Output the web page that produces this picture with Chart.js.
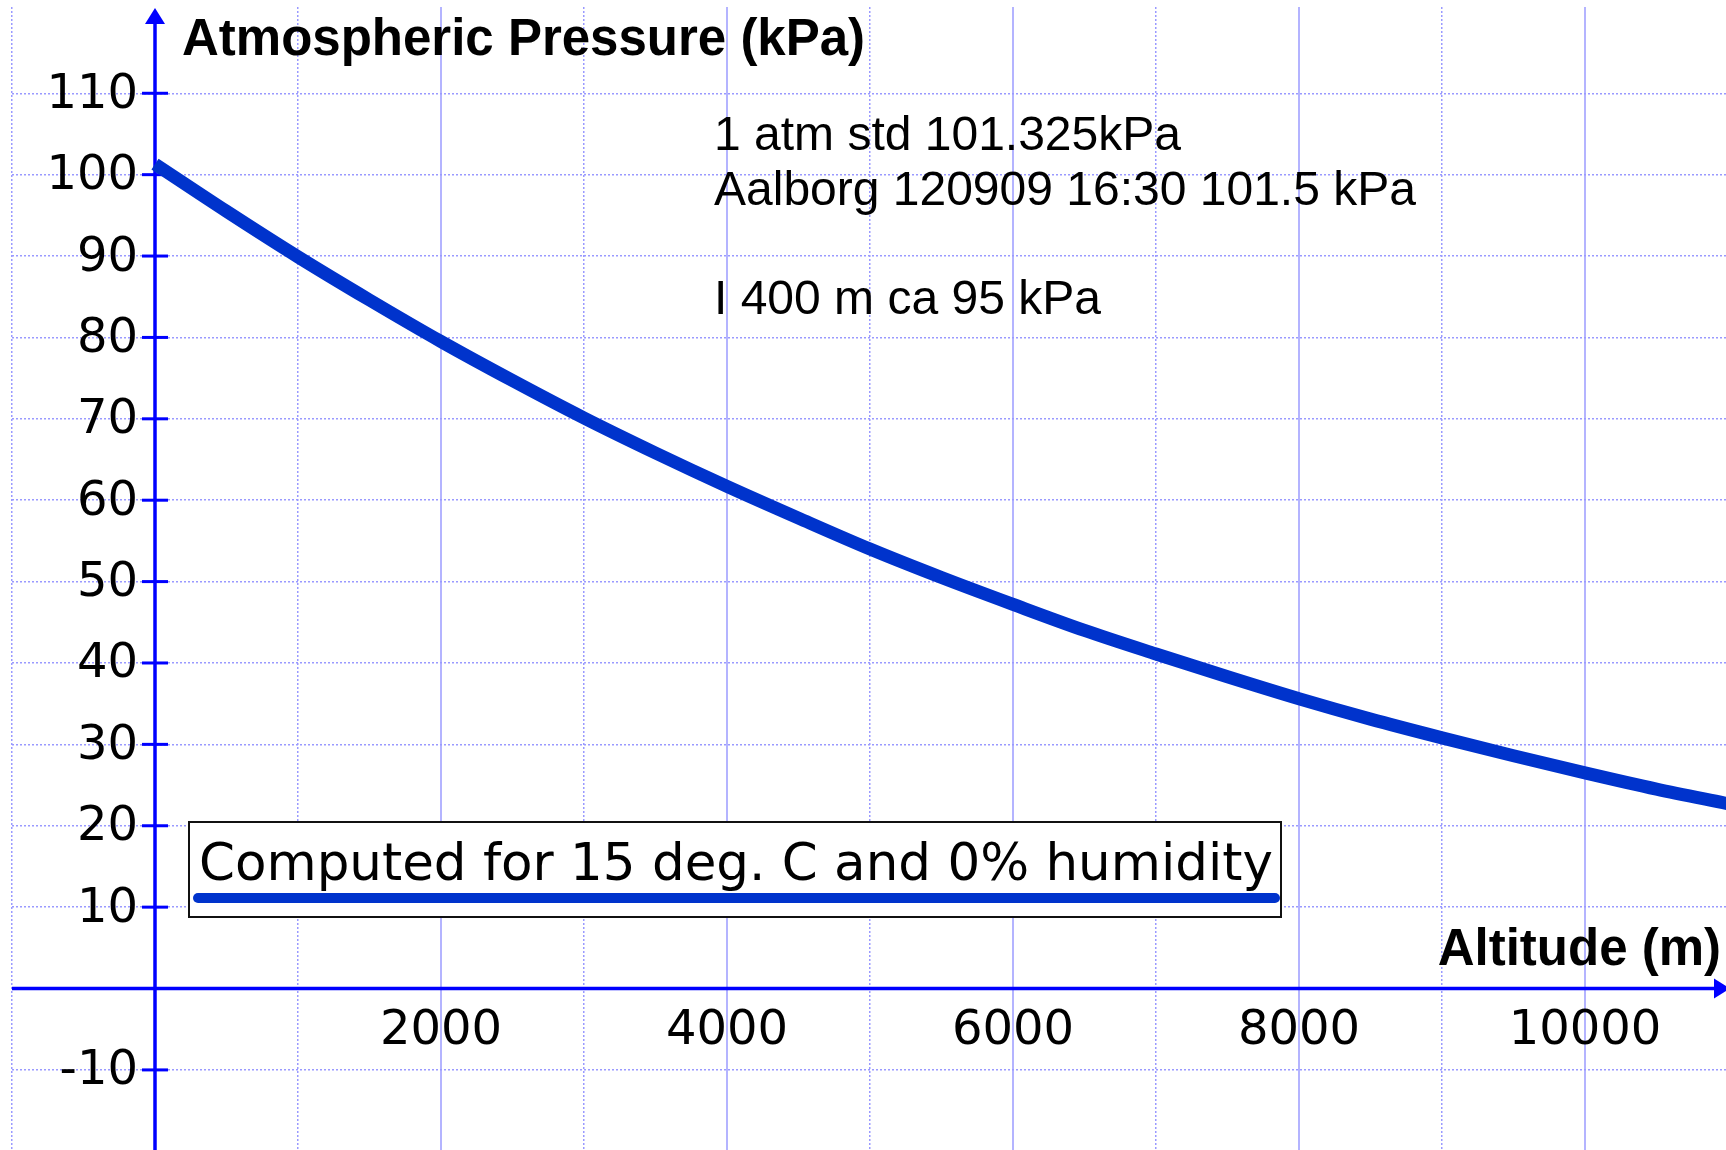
<!DOCTYPE html>
<html>
<head>
<meta charset="utf-8">
<title>Atmospheric Pressure vs Altitude</title>
<script src="https://cdn.jsdelivr.net/npm/chart.js@4"></script>
<style>
  html, body { margin: 0; padding: 0; background: #fff; overflow: hidden; }
  #wrap { width: 1726px; height: 1150px; position: relative; }
</style>
</head>
<body>
<div id="wrap"><canvas id="chart"></canvas></div>
<script>
// Pressure curve (altitude in m, pressure in kPa)
const altitudes = [0, 500, 1000, 1500, 2000, 2500, 3000, 3500, 4000, 4500, 5000, 5500,
    6000, 6500, 7000, 7500, 8000, 8500, 9000, 9500, 10000, 10500, 11000];
const pressures = [101.3, 95.5, 89.9, 84.6, 79.5, 74.7, 70.1, 65.8, 61.7, 57.8, 54.0, 50.5,
    47.2, 44.0, 41.1, 38.3, 35.6, 33.1, 30.8, 28.6, 26.5, 24.5, 22.7];

// Grid and tick labels
const xDottedGrid = [-1000, 1000, 3000, 5000, 7000, 9000];
const xSolidGrid = [2000, 4000, 6000, 8000, 10000];
const xTickLabels = [2000, 4000, 6000, 8000, 10000];
const yGrid = [-10, 10, 20, 30, 40, 50, 60, 70, 80, 90, 100, 110];
const yTickLabels = [-10, 10, 20, 30, 40, 50, 60, 70, 80, 90, 100, 110];

// Texts
const seriesLabel = 'Computed for 15 deg. C and 0% humidity';
const yAxisTitle = 'Atmospheric Pressure (kPa)';
const xAxisTitle = 'Altitude (m)';
const notes = ['1 atm std 101.325kPa', 'Aalborg 120909 16:30 101.5 kPa', '', 'I 400 m ca 95 kPa'];

const AXIS_BLUE = '#0000ff';
const CURVE_BLUE = '#0033cc';
const DOT_GRID = '#9a9aff';
const SOLID_GRID = 'rgba(130, 130, 255, 0.6)';

// Draws the blue axes with arrows, tick labels, titles, notes and the boxed legend
const axesPlugin = {
    id: 'axesPlugin',
    beforeDatasetsDraw(chart) {
        const ctx = chart.ctx;
        const xs = chart.scales.x;
        const ys = chart.scales.y;
        const area = chart.chartArea;
        const x0 = xs.getPixelForValue(0);
        const y0 = ys.getPixelForValue(0);

        ctx.save();
        ctx.strokeStyle = AXIS_BLUE;
        ctx.fillStyle = AXIS_BLUE;
        ctx.lineWidth = 3.5;

        // x axis
        ctx.beginPath();
        ctx.moveTo(area.left, y0);
        ctx.lineTo(area.right - 8, y0);
        ctx.stroke();
        ctx.beginPath();
        ctx.moveTo(area.right + 4, y0);
        ctx.lineTo(area.right - 12, y0 - 10);
        ctx.lineTo(area.right - 12, y0 + 10);
        ctx.closePath();
        ctx.fill();

        // y axis
        ctx.beginPath();
        ctx.moveTo(x0, area.bottom);
        ctx.lineTo(x0, area.top + 10);
        ctx.stroke();
        ctx.beginPath();
        ctx.moveTo(x0, area.top + 1);
        ctx.lineTo(x0 - 10, area.top + 17);
        ctx.lineTo(x0 + 10, area.top + 17);
        ctx.closePath();
        ctx.fill();

        // y tick marks
        ctx.lineWidth = 3;
        yTickLabels.forEach(v => {
            const y = ys.getPixelForValue(v);
            ctx.beginPath();
            ctx.moveTo(x0 - 13, y);
            ctx.lineTo(x0 + 13, y);
            ctx.stroke();
        });

        // tick labels
        ctx.fillStyle = '#000';
        ctx.font = '48px "DejaVu Sans"';
        ctx.textAlign = 'right';
        ctx.textBaseline = 'middle';
        yTickLabels.forEach(v => {
            ctx.fillText(String(v), x0 - 17, ys.getPixelForValue(v) + 2);
        });
        ctx.textAlign = 'center';
        xTickLabels.forEach(v => {
            ctx.fillText(String(v), xs.getPixelForValue(v), y0 + 43);
        });
        ctx.restore();
    },
    afterDatasetsDraw(chart) {
        const ctx = chart.ctx;
        const ds = chart.data.datasets[0];
        ctx.save();

        // axis titles
        ctx.fillStyle = '#000';
        ctx.font = 'bold 51px "Liberation Sans"';
        ctx.textBaseline = 'alphabetic';
        ctx.textAlign = 'left';
        ctx.fillText(yAxisTitle, 182, 55);
        ctx.textAlign = 'right';
        ctx.fillText(xAxisTitle, 1721, 965);

        // notes
        ctx.font = '48px "Liberation Sans"';
        ctx.textAlign = 'left';
        notes.forEach((line, i) => {
            if (line) ctx.fillText(line, 714, 150 + i * 54.5);
        });

        // legend box
        ctx.fillStyle = '#fff';
        ctx.fillRect(189, 822, 1092, 95);
        ctx.strokeStyle = '#111';
        ctx.lineWidth = 2;
        ctx.strokeRect(189, 822, 1092, 95);
        ctx.fillStyle = '#000';
        ctx.font = '51.5px "DejaVu Sans"';
        ctx.textBaseline = 'middle';
        ctx.fillText(ds.label, 199, 867);
        ctx.strokeStyle = ds.borderColor;
        ctx.lineWidth = 10;
        ctx.lineCap = 'round';
        ctx.beginPath();
        ctx.moveTo(198, 898);
        ctx.lineTo(1275, 898);
        ctx.stroke();
        ctx.restore();
    }
};

const ticksFrom = arr => scale => { scale.ticks = arr.map(v => ({ value: v })); };

new Chart(document.getElementById('chart'), {
    type: 'line',
    data: {
        datasets: [{
            label: seriesLabel,
            data: altitudes.map((a, i) => ({ x: a, y: pressures[i] })),
            borderColor: CURVE_BLUE,
            borderWidth: 13,
            pointRadius: 0,
            cubicInterpolationMode: 'monotone',
            fill: false
        }]
    },
    options: {
        responsive: true,
        maintainAspectRatio: false,
        devicePixelRatio: 1,
        animation: false,
        events: [],
        layout: { padding: { left: 12, top: 7, right: 0, bottom: 0 }, autoPadding: false },
        plugins: {
            legend: { display: false },
            tooltip: { enabled: false },
            title: { display: false }
        },
        scales: {
            x: {
                type: 'linear',
                min: -1000,
                max: 10986,
                afterBuildTicks: ticksFrom(xDottedGrid),
                afterFit: s => { s.height = 0; },
                ticks: { display: false },
                border: { display: false, dash: [2, 2] },
                grid: { color: DOT_GRID, lineWidth: 1.5, drawTicks: false }
            },
            x2: {
                type: 'linear',
                position: 'bottom',
                min: -1000,
                max: 10986,
                afterBuildTicks: ticksFrom(xSolidGrid),
                afterFit: s => { s.height = 0; },
                ticks: { display: false },
                border: { display: false },
                grid: { color: SOLID_GRID, lineWidth: 2, drawTicks: false }
            },
            y: {
                type: 'linear',
                min: -19.84,
                max: 120.6,
                afterBuildTicks: ticksFrom(yGrid),
                afterFit: s => { s.width = 0; },
                ticks: { display: false },
                border: { display: false, dash: [2, 2] },
                grid: { color: DOT_GRID, lineWidth: 1.5, drawTicks: false }
            }
        }
    },
    plugins: [axesPlugin]
});
</script>
</body>
</html>
